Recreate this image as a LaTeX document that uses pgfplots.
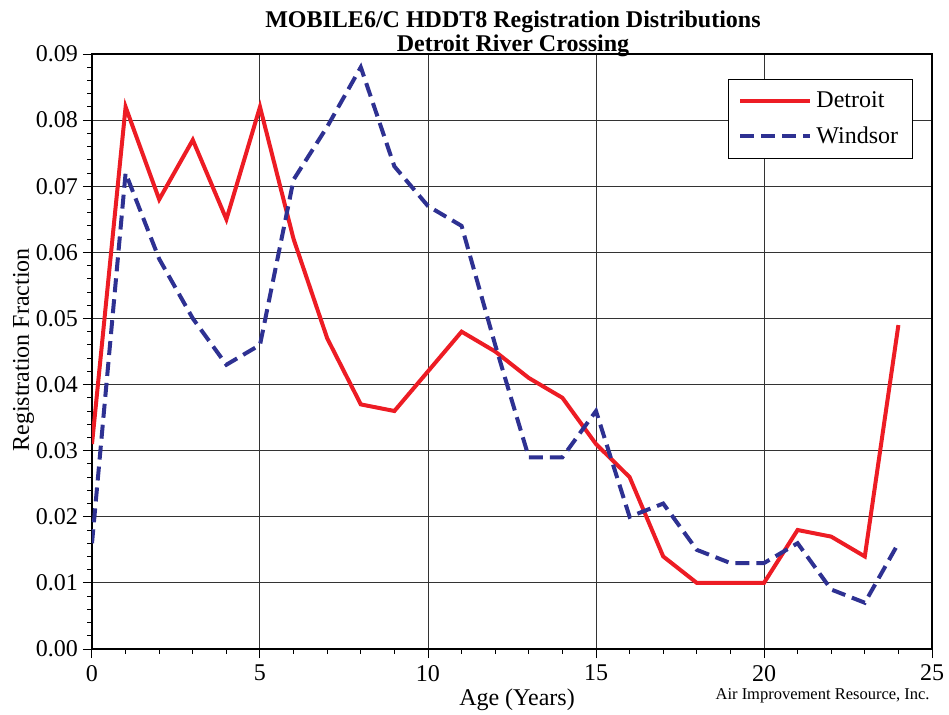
\documentclass[border=0pt]{standalone}
\usepackage{fontspec}
\setmainfont{Liberation Serif}
\usepackage{pgfplots}
\pgfplotsset{compat=1.18}
\definecolor{detred}{RGB}{237,28,36}
\definecolor{winblue}{RGB}{46,49,146}
\begin{document}
\begin{tikzpicture}
\path[use as bounding box] (-46pt,-32.5pt) rectangle (428.5pt,324.5pt);
\begin{axis}[
  name=ax,
  scale only axis,
  width=420pt, height=297.5pt,
  xmin=0, xmax=25, ymin=0, ymax=0.09,
  xtick={0,5,...,25},
  minor x tick num=4,
  ytick={0,0.01,...,0.09},
  minor y tick num=4,
  grid=major,
  major grid style={line width=0.5pt, color=black!80},
  axis line style={line width=0.9pt},
  tick align=outside,
  xtick pos=bottom, ytick pos=left,
  major tick length=4.5pt, minor tick length=2.3pt,
  every tick/.style={black, line width=0.5pt},
  /pgf/number format/assume math mode=true,
  yticklabel style={/pgf/number format/fixed, /pgf/number format/fixed zerofill, /pgf/number format/precision=2, font=\fontsize{12}{14}\selectfont, xshift=1pt},
  xticklabel style={font=\fontsize{12}{14}\selectfont},
  scaled y ticks=false,
  xlabel={Age (Years)},
  ylabel={Registration Fraction},
  xlabel style={at={(axis description cs:0.506,0)}, anchor=base, yshift=-28pt, font=\fontsize{12}{14}\selectfont},
  ylabel style={at={(axis description cs:0,0.503)}, rotate=0, anchor=base, yshift=31.5pt, font=\fontsize{12}{14}\selectfont},
  legend style={at={(0.977,0.958)}, anchor=north east, draw=black, line width=0.5pt, fill=white,
    font=\fontsize{12}{14}\selectfont, row sep=4pt, inner xsep=5pt, inner ysep=4pt},
  legend cell align=left,
  legend image code/.code={\draw[#1] (0pt,0pt) -- (35pt,0pt);},
]
\addplot[detred, line width=2pt] coordinates {
(0,0.031) (1,0.082) (2,0.068) (3,0.077) (4,0.065) (5,0.082) (6,0.062) (7,0.047)
(8,0.037) (9,0.036) (10,0.042) (11,0.048) (12,0.045) (13,0.041) (14,0.038) (15,0.031)
(16,0.026) (17,0.014) (18,0.010) (19,0.010) (20,0.010) (21,0.018) (22,0.017) (23,0.014) (24,0.049)};
\addlegendentry{Detroit}
\addplot[winblue, line width=2pt, dash pattern=on 7pt off 3.5pt] coordinates {
(0,0.016) (1,0.072) (2,0.059) (3,0.050) (4,0.043) (5,0.046) (6,0.071) (7,0.079)
(8,0.088) (9,0.073) (10,0.067) (11,0.064) (12,0.046) (13,0.029) (14,0.029) (15,0.036)
(16,0.020) (17,0.022) (18,0.015) (19,0.013) (20,0.013) (21,0.016) (22,0.009) (23,0.007) (24,0.016)};
\addlegendentry{Windsor}
\end{axis}
\node[anchor=base, font=\bfseries\fontsize{12}{14}\selectfont] at (210.5pt,311pt) {MOBILE6/C HDDT8 Registration Distributions};
\node[anchor=base, font=\bfseries\fontsize{12}{14}\selectfont] at (210.5pt,298.5pt) {Detroit River Crossing};
\node[anchor=base east, inner sep=0pt, font=\fontsize{8.25}{10}\selectfont] at (419pt,-25pt) {Air Improvement Resource, Inc.};
\end{tikzpicture}
\end{document}
